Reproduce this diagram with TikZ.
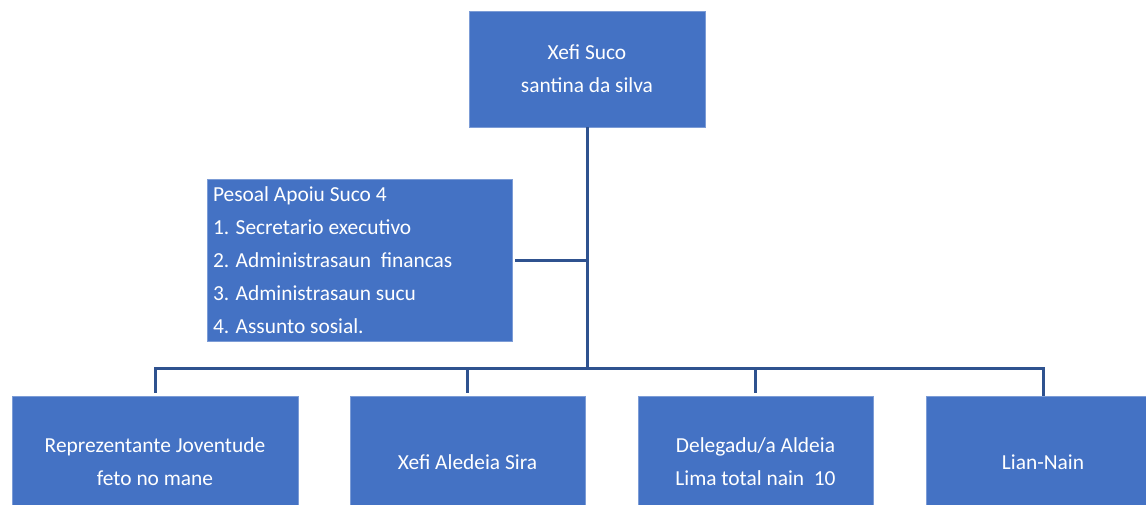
\documentclass[tikz,border=0pt]{standalone}
\usepackage{fontspec}
\setmainfont{Carlito}
\definecolor{boxfill}{HTML}{4472C4}
\definecolor{boxedge}{HTML}{7C9CD6}
\definecolor{linecol}{HTML}{2F528F}
\tikzset{
  orgbox/.style={rectangle, fill=boxfill, draw=boxedge, line width=0.8pt, text=white,
    font=\fontsize{21.4}{33}\selectfont, inner sep=6pt},
  conn/.style={draw=linecol, line width=3pt}
}
\begin{document}
\begin{tikzpicture}[x=1pt,y=-1pt]
\useasboundingbox (0,0) rectangle (1146,504);
\clip (0,0) rectangle (1146,504);
\fill[white] (0,0) rectangle (1146,504);
\node[orgbox, minimum width=236pt, minimum height=116pt, align=center] (top) at (587,69)
  {Xefi Suco\\santina da silva};
\node[orgbox, minimum width=305pt, minimum height=162pt, text width=293pt, align=flush left] (staff) at (359.5,260)
  {Pesoal Apoiu Suco 4\\1. Secretario executivo\\2. Administrasaun\ \ financas\\3. Administrasaun sucu\\4. Assunto sosial.};
\node[orgbox, minimum width=286pt, minimum height=132pt, align=center] (b1) at (155,462)
  {Reprezentante Joventude\\feto no mane};
\node[orgbox, minimum width=235pt, minimum height=132pt, align=center] (b2) at (467.5,462)
  {Xefi Aledeia Sira};
\node[orgbox, minimum width=235pt, minimum height=132pt, align=center] (b3) at (755.5,462)
  {Delegadu/a Aldeia\\Lima total nain\ \ 10};
\node[orgbox, minimum width=234pt, minimum height=132pt, align=center] (b4) at (1043,462)
  {Lian-Nain};
\coordinate (bus) at (587,368);
\coordinate (mid) at (587,260);
\draw[conn] (top.south) -- (bus);
\draw[conn, shorten <=3pt] (staff.east |- mid) -- (mid);
\draw[conn, shorten <=3pt] (b1.north) -- (b1.north |- bus) -- (b4.north |- bus) -- (b4.north);
\draw[conn, shorten <=3pt] (b2.north) -- (b2.north |- bus);
\draw[conn, shorten <=3pt] (b3.north) -- (b3.north |- bus);
\end{tikzpicture}
\end{document}
